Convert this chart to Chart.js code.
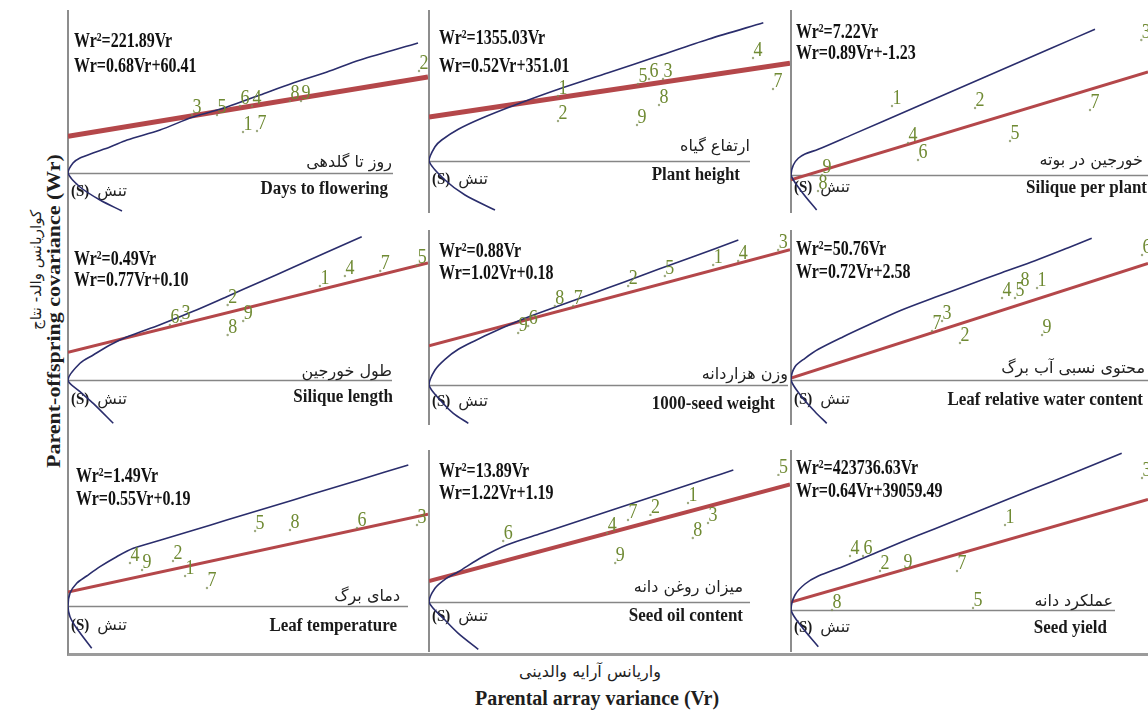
<!DOCTYPE html>
<html lang="fa">
<head>
<meta charset="utf-8">
<title>Wr/Vr graphs of nine traits</title>
<script src="https://cdn.jsdelivr.net/npm/chart.js@4.4.1/dist/chart.umd.min.js"></script>
<style>
  html, body { margin:0; padding:0; background:#fff; }
  #figure { position:relative; width:1148px; height:712px; overflow:hidden; background:#fff; }
  #figure canvas { position:absolute; }
  .frame { position:absolute; left:67px; top:10px; width:1081px; height:646px;
           border-left:2px solid #8d8d8d; border-bottom:3px solid #9b9b9b; box-sizing:border-box; }
  .title { position:absolute; white-space:nowrap; color:#1e1e1e; }
  .en { font-family:'Liberation Serif','Times New Roman',serif; font-weight:bold; }
  .fa { font-family:'DejaVu Sans',sans-serif; direction:rtl; }
</style>
</head>
<body>
<div id="figure">
  <div class="frame"></div>
  <div class="title fa" style="left:36px;top:270px;font-size:15px;transform:translate(-50%,-50%) rotate(-90deg)">کواریانس والد- نتاج</div>
  <div class="title en" style="left:54px;top:311px;font-size:18px;transform:translate(-50%,-50%) rotate(-90deg) scaleX(1.22)">Parent-offspring covariance (Wr)</div>
  <div class="title fa" style="left:590px;top:671px;font-size:16px;transform:translate(-50%,-50%)">واریانس آرایه والدینی</div>
  <div class="title en" style="left:597px;top:698px;font-size:20px;transform:translate(-50%,-50%)">Parental array variance (Vr)</div>
</div>
<script>
// ---- traits ----
const traitEn = ['Days to flowering', 'Plant height', 'Silique per plant',
                 'Silique length', '1000-seed weight', 'Leaf relative water content',
                 'Leaf temperature', 'Seed oil content', 'Seed yield'];
const traitFa = ['روز تا گلدهی', 'ارتفاع گیاه', 'خورجین در بوته',
                 'طول خورجین', 'وزن هزاردانه', 'محتوی نسبی آب برگ',
                 'دمای برگ', 'میزان روغن دانه', 'عملکرد دانه'];

// limiting parabola Wr² = a·Vr and regression line Wr = b·Vr + c
const parabolaA = [221.89, 1355.03, 7.22, 0.49, 0.88, 50.76, 1.49, 13.89, 423736.63];
const regressionB = [0.68, 0.52, 0.89, 0.77, 1.02, 0.72, 0.55, 1.22, 0.64];
const regressionC = [60.41, 351.01, -1.23, 0.10, 0.18, 2.58, 0.19, 1.19, 39059.49];

// parent genotypes
const genotypes = ['1', '2', '3', '4', '5', '6', '7', '8', '9'];

// (Vr, Wr) of genotypes 1..9 for each trait
const vrDaysFlowering = [72, 142.4, 51.6, 75.6, 61.6, 70.8, 77.6, 90.8, 95.2];
const wrDaysFlowering = [80.9, 181.5, 108.9, 123.8, 108.9, 123.8, 82.5, 132, 132];
const vrPlantHeight = [308.2, 308.2, 549.7, 756.7, 492.2, 517.5, 802.7, 540.5, 489.9];
const wrPlantHeight = [584, 384, 720, 888, 680, 720, 640, 512, 352];
const vrSiliquePlant = [9.01, 16.07, 30.2, 10.37, 19.04, 11.22, 25.84, 2.72, 3.06];
const wrSiliquePlant = [19.25, 18.75, 35.75, 10, 10.5, 5.75, 18.25, -2, 2];
const vrSiliqueLength = [0.298, 0.191, 0.137, 0.327, 0.411, 0.124, 0.368, 0.191, 0.209];
const wrSiliqueLength = [0.367, 0.299, 0.241, 0.403, 0.443, 0.227, 0.421, 0.191, 0.241];
const vrSeedWeight = [0.347, 0.245, 0.425, 0.377, 0.289, 0.125, 0.179, 0.157, 0.113];
const wrSeedWeight = [0.589, 0.492, 0.658, 0.607, 0.538, 0.308, 0.400, 0.400, 0.276];
const vrLeafWater = [145.6, 100.9, 90.5, 125.3, 132.8, 206.5, 84.7, 135.7, 148.5];
const wrLeafWater = [130, 58.5, 87.1, 117, 117, 172.9, 74.1, 130, 68.9];
const vrLeafTemp = [0.647, 0.583, 1.876, 0.355, 1.018, 1.558, 0.763, 1.203, 0.419];
const wrLeafTemp = [0.513, 0.716, 1.202, 0.689, 1.121, 1.161, 0.351, 1.134, 0.594];
const vrSeedOil = [3.30, 2.83, 3.55, 2.29, 4.43, 0.99, 2.55, 3.36, 2.39];
const wrSeedOil = [6.10, 5.42, 4.96, 4.39, 7.70, 3.93, 5.13, 4.10, 2.68];
const vrSeedYield = [481800, 206800, 783200, 140800, 411400, 169400, 376200, 101200, 257400];
const wrSeedYield = [455700, 230300, 686000, 303800, 49000, 303800, 230300, 39200, 235200];

// limiting parabola traced from the lower branch, through the vertex, up the upper branch
const limVrDaysFlowering = [21.6, 12.8, 4.8, 0, 2, 4.8, 10, 16.8, 23.6, 36.8, 50, 63.6, 76.8, 90, 103.6, 116.8, 140];
const limWrDaysFlowering = [-62.7, -44.6, -23.1, 0, 16.5, 24.8, 33, 42.9, 54.5, 71, 92.4, 108.9, 128.7, 148.5, 166.7, 186.5, 214.5];
const limVrPlantHeight = [151.8, 82.8, 36.8, 0, 13.8, 29.2, 67.4, 121.2, 197.8, 297.4, 412.4, 527.4, 642.4, 768.9];
const limWrPlantHeight = [-392, -272, -152, 0, 114, 168, 254, 342, 448, 574, 706, 840, 974, 1106];
const limVrSiliquePlant = [2.18, 0.91, 0, 0.20, 0.62, 1.19, 2.32, 5.16, 10.82, 16.49, 22.16, 25.84];
const limWrSiliquePlant = [-8.75, -4.18, 0, 2.5, 4.18, 5.25, 6.43, 10.03, 17.25, 24.5, 31.75, 36.43];
const limVrSiliqueLength = [0.0525, 0.0293, 0.0139, 0, 0.0139, 0.0293, 0.0487, 0.0681, 0.1067, 0.1453, 0.1841, 0.2227, 0.2613, 0.3001, 0.3407];
const limWrSiliqueLength = [-0.1559, -0.0839, -0.0421, 0, 0.0601, 0.09, 0.126, 0.1548, 0.1991, 0.2473, 0.2999, 0.3528, 0.4057, 0.4597, 0.5159];
const limVrSeedWeight = [0.0472, 0.0292, 0.0152, 0, 0.0072, 0.0192, 0.0352, 0.0552, 0.0752, 0.1152, 0.1552, 0.1952, 0.2352, 0.2752, 0.3152, 0.3712];
const limWrSeedWeight = [-0.1762, -0.1302, -0.0768, 0, 0.069, 0.1182, 0.1642, 0.2038, 0.2406, 0.3068, 0.3634, 0.4186, 0.4752, 0.5322, 0.5874, 0.667];
const limVrLeafWater = [20.71, 13.92, 6.21, 0, 2.32, 8.12, 15.83, 30.33, 44.83, 64.21, 83.52, 102.83, 122.21, 141.52, 160.83, 174.41];
const limWrLeafWater = [-56.3, -41.2, -21.7, 0, 17.3, 28.2, 39.9, 56.3, 71.5, 91, 107.5, 123.5, 139.5, 155.1, 172, 184.2];
const limVrLeafTemp = [0.1256, 0.0461, 0.0106, 0, 0.0106, 0.0461, 0.0991, 0.1696, 0.2581, 0.3461, 0.4876, 0.6641, 0.8411, 1.0176, 1.1941, 1.3711, 1.5476, 1.8036];
const limWrLeafTemp = [-0.5711, -0.3011, -0.1445, 0, 0.1715, 0.3065, 0.405, 0.5306, 0.6656, 0.779, 0.887, 1.022, 1.161, 1.296, 1.431, 1.5701, 1.7051, 1.9035];
const limVrSeedOil = [0.616, 0.366, 0.2, 0, 0.075, 0.2, 0.366, 0.659, 0.971, 1.409, 1.825, 2.241, 2.659, 3.075, 3.491, 3.804];
const limWrSeedOil = [-2.696, -1.784, -1.026, 0, 0.781, 1.294, 1.727, 2.548, 3.249, 3.916, 4.543, 5.17, 5.797, 6.424, 7.051, 7.524];
const limVrSeedYield = [60060, 23540, 0, 8800, 30800, 60060, 118800, 206800, 280060, 353540, 426800, 500060, 573540, 646800, 727540];
const limWrSeedYield = [-179830, -81830, 0, 73500, 127400, 166600, 217070, 299390, 366030, 431200, 497350, 563500, 628670, 694330, 767830];

const genoVr = [vrDaysFlowering, vrPlantHeight, vrSiliquePlant, vrSiliqueLength, vrSeedWeight, vrLeafWater, vrLeafTemp, vrSeedOil, vrSeedYield];
const genoWr = [wrDaysFlowering, wrPlantHeight, wrSiliquePlant, wrSiliqueLength, wrSeedWeight, wrLeafWater, wrLeafTemp, wrSeedOil, wrSeedYield];
const limVr = [limVrDaysFlowering, limVrPlantHeight, limVrSiliquePlant, limVrSiliqueLength, limVrSeedWeight, limVrLeafWater, limVrLeafTemp, limVrSeedOil, limVrSeedYield];
const limWr = [limWrDaysFlowering, limWrPlantHeight, limWrSiliquePlant, limWrSiliqueLength, limWrSeedWeight, limWrLeafWater, limWrLeafTemp, limWrSeedOil, limWrSeedYield];

// ---- layout: page box of each panel and the data window it shows ----
const frames = [
  { l: 68,  r: 428,  t: 10,  b: 213, xMax: 144,    yMin: -66,     yMax: 269 },
  { l: 429, r: 790,  t: 10,  b: 213, xMax: 830.3,  yMin: -416,    yMax: 1208 },
  { l: 791, r: 1148, t: 10,  b: 213, xMax: 30.345, yMin: -9.5,    yMax: 41.25 },
  { l: 68,  r: 428,  t: 230, b: 425, xMax: 0.4176, yMin: -0.162,  yMax: 0.54 },
  { l: 429, r: 790,  t: 230, b: 425, xMax: 0.4332, yMin: -0.184,  yMax: 0.713 },
  { l: 791, r: 1148, t: 230, b: 425, xMax: 207.06, yMin: -58.5,   yMax: 195 },
  { l: 68,  r: 428,  t: 450, b: 652, xMax: 1.908,  yMin: -0.621,  yMax: 2.106 },
  { l: 429, r: 790,  t: 450, b: 652, xMax: 4.5125, yMin: -2.85,   yMax: 8.664 },
  { l: 791, r: 1148, t: 450, b: 652, xMax: 785400, yMin: -205800, yMax: 784000 }
];
const PAD = 3;
const regWidth  = [5, 5, 3, 3, 3, 3, 3, 4, 3];
const axisGap   = [35, 40, 0, 36, 2, 0, 20, 40, 33];   // right gap of the baseline
const eqLeft    = [6, 10, 5, 6, 10, 5, 8, 10, 5];
const eqTop1    = [32, 29, 23, 30, 22, 20, 27, 22, 19];
const eqTop2    = [57, 57, 44, 51, 44, 43, 50, 44, 42];
const faOff     = [-10, -14, -14, -8, -10, -11, -9, -14, -8];
const enOff     = [16, 14, 13, 17, 19, 20, 20, 14, 18];
const sOff      = [19, 19, 13, 20, 17, 20, 20, 15, 18];
const enRight   = [40, 50, 1, 35, 15, 5, 31, 47, 41];
const faRight   = [36, 40, 5, 36, 2, 3, 28, 47, 35];

const SERIF = "'Liberation Serif','Times New Roman',serif";
const ARABIC = "'DejaVu Sans',sans-serif";

function stretchText(ctx, txt, x, y, font, color, align, sy, dir) {
  ctx.save();
  ctx.font = font;
  ctx.fillStyle = color;
  ctx.textAlign = align;
  ctx.textBaseline = 'middle';
  ctx.direction = dir || 'ltr';
  ctx.translate(x, y);
  ctx.scale(1, sy);
  ctx.fillText(txt, 0, 0);
  ctx.restore();
}

function panelDecor(i) {
  return {
    id: 'panelDecor' + i,
    beforeDatasetsDraw(chart) {
      const { ctx, chartArea: a, scales: { x, y } } = chart;
      const x0 = x.getPixelForValue(0);
      const y0 = Math.round(y.getPixelForValue(0));
      ctx.save();
      // vertical (Wr) axis
      ctx.strokeStyle = '#8d8d8d';
      ctx.lineWidth = 2;
      ctx.beginPath(); ctx.moveTo(x0, a.top); ctx.lineTo(x0, a.bottom); ctx.stroke();
      // Vr baseline
      ctx.strokeStyle = '#868686';
      ctx.lineWidth = 1.5;
      ctx.beginPath(); ctx.moveTo(x0, y0 + 0.5); ctx.lineTo(a.right - axisGap[i], y0 + 0.5); ctx.stroke();
      ctx.restore();
      // trait names
      stretchText(ctx, traitFa[i], a.right - faRight[i], y0 + faOff[i], '16px ' + ARABIC, '#222', 'right', 1.0, 'rtl');
      stretchText(ctx, traitEn[i], a.right - enRight[i], y0 + enOff[i], 'bold 17px ' + SERIF, '#1a1a1a', 'right', 1.1);
      // stress label
      stretchText(ctx, '(S)', x0 + 3, y0 + sOff[i], 'bold 15px ' + SERIF, '#1a1a1a', 'left', 1.15);
      stretchText(ctx, 'تنش', x0 + 59, y0 + sOff[i], '16px ' + ARABIC, '#222', 'right', 1.0, 'rtl');
    },
    afterDatasetsDraw(chart) {
      const { ctx, chartArea: a, scales: { x, y } } = chart;
      const vr = genoVr[i], wr = genoWr[i];
      for (let k = 0; k < genotypes.length; k++) {
        const px = x.getPixelForValue(vr[k]);
        const py = y.getPixelForValue(wr[k]);
        ctx.save();
        ctx.fillStyle = 'rgba(125,140,85,0.75)';
        ctx.beginPath(); ctx.arc(px - 5, py + 8, 1.2, 0, Math.PI * 2); ctx.fill();
        ctx.restore();
        stretchText(ctx, genotypes[k], px, py, '18px ' + SERIF, '#6f8a33', 'center', 1.2);
      }
      const eq1 = 'Wr\u00B2=' + parabolaA[i].toFixed(2) + 'Vr';
      const eq2 = 'Wr=' + regressionB[i].toFixed(2) + 'Vr+' + regressionC[i].toFixed(2);
      stretchText(ctx, eq1, a.left + eqLeft[i], a.top + eqTop1[i], 'bold 16px ' + SERIF, '#111', 'left', 1.3);
      stretchText(ctx, eq2, a.left + eqLeft[i], a.top + eqTop2[i], 'bold 16px ' + SERIF, '#111', 'left', 1.3);
    }
  };
}

const fig = document.getElementById('figure');
frames.forEach((f, i) => {
  const cv = document.createElement('canvas');
  const w = f.r - f.l + PAD, h = f.b - f.t;
  cv.width = w; cv.height = h;
  cv.style.left = (f.l - PAD) + 'px';
  cv.style.top = f.t + 'px';
  cv.style.width = w + 'px';
  cv.style.height = h + 'px';
  fig.appendChild(cv);

  const b = regressionB[i], c = regressionC[i];
  new Chart(cv, {
    type: 'scatter',
    data: {
      datasets: [
        {
          type: 'line',
          label: 'Wr\u00B2 = a Vr',
          data: limVr[i].map((v, k) => ({ x: v, y: limWr[i][k] })),
          borderColor: '#2a2d6c',
          borderWidth: 1.6,
          pointRadius: 0,
          tension: 0.3,
          fill: false,
          order: 0
        },
        {
          type: 'line',
          label: 'Wr = b Vr + c',
          data: [{ x: 0, y: c }, { x: f.xMax, y: b * f.xMax + c }],
          borderColor: '#b4474a',
          borderWidth: regWidth[i],
          pointRadius: 0,
          fill: false,
          order: 1
        }
      ]
    },
    options: {
      responsive: false,
      animation: false,
      devicePixelRatio: 1,
      events: [],
      layout: { padding: { left: PAD, right: 0, top: 0, bottom: 0 } },
      scales: {
        x: { type: 'linear', min: 0, max: f.xMax, display: false },
        y: { type: 'linear', min: f.yMin, max: f.yMax, display: false }
      },
      plugins: { legend: { display: false }, tooltip: { enabled: false } }
    },
    plugins: [panelDecor(i)]
  });
});
</script>
</body>
</html>
